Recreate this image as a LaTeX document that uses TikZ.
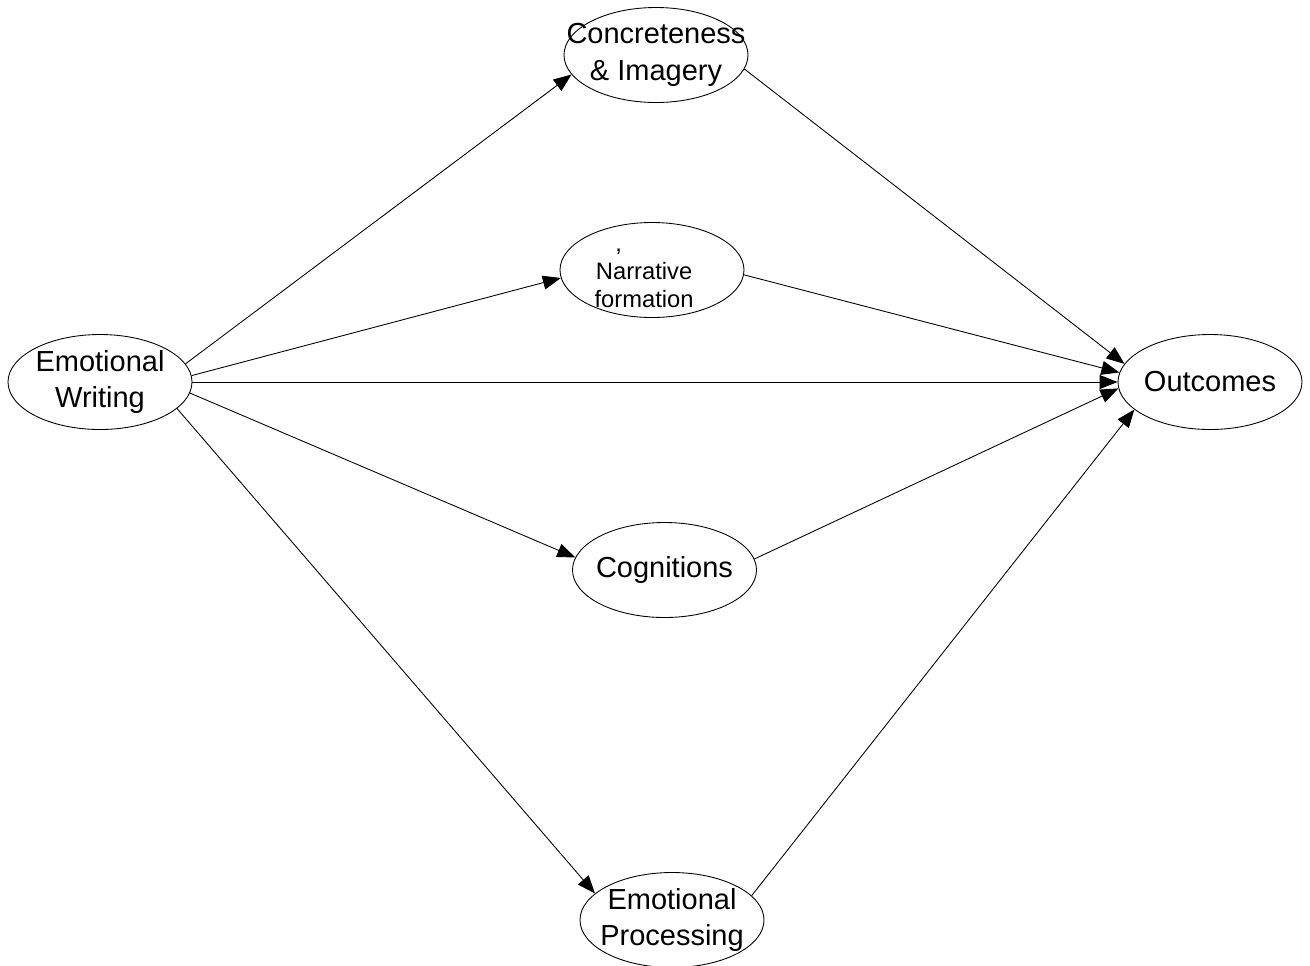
\documentclass[tikz,border=0pt]{standalone}
\usepackage{fontspec}
\setmainfont{Liberation Sans}
\usetikzlibrary{arrows.meta, positioning, shapes.geometric}

\begin{document}
\begin{tikzpicture}[
    node distance=1cm and 1cm, on grid,
    var/.style={draw, ellipse, line width=0.5pt, minimum width=3.68cm,
                minimum height=1.9cm, inner xsep=-1.5cm, inner ysep=-0.3cm,
                align=center, font=\fontsize{16.5}{21}\selectfont},
    arr/.style={-{Triangle[length=0.36cm, width=0.28cm]}, line width=0.5pt}
  ]
  \useasboundingbox (0,0) rectangle (26.2,-19.3);

  % Predictor
  \node[var] (ew) at (2.0,-7.64) {Emotional\\Writing};

  % Mediators
  \node[var, above right=6.54cm and 11.12cm of ew] (conc) {Concreteness\\\& Imagery};
  \node[var, above right=2.24cm and 11.04cm of ew,
        font=\fontsize{13.5}{16}\selectfont] (narr)
        {\strut,\kern38pt\\Narrative\kern9pt\\formation\kern9pt};
  \node[var, below right=3.76cm and 11.29cm of ew] (cogn) {Cognitions};
  \node[var, below right=10.76cm and 11.44cm of ew] (ep) {Emotional\\Processing};

  % Outcome
  \node[var, right=22.2cm of ew] (out) {Outcomes};

  % Paths from writing
  \draw[arr] (ew.12) -- (conc.193);
  \draw[arr] (ew.4) -- (narr.185);
  \draw[arr] (ew.0) -- (out.180);
  \draw[arr] (ew.-7) -- (cogn.172);
  \draw[arr] (ew.-19) -- (ep.161);

  % Paths to outcomes
  \draw[arr] (conc.-9) -- (out.168);
  \draw[arr] (narr.-3) -- (out.174);
  \draw[arr] (cogn.7) -- (out.184);
  \draw[arr] (ep.17) -- (out.200);
\end{tikzpicture}
\end{document}
